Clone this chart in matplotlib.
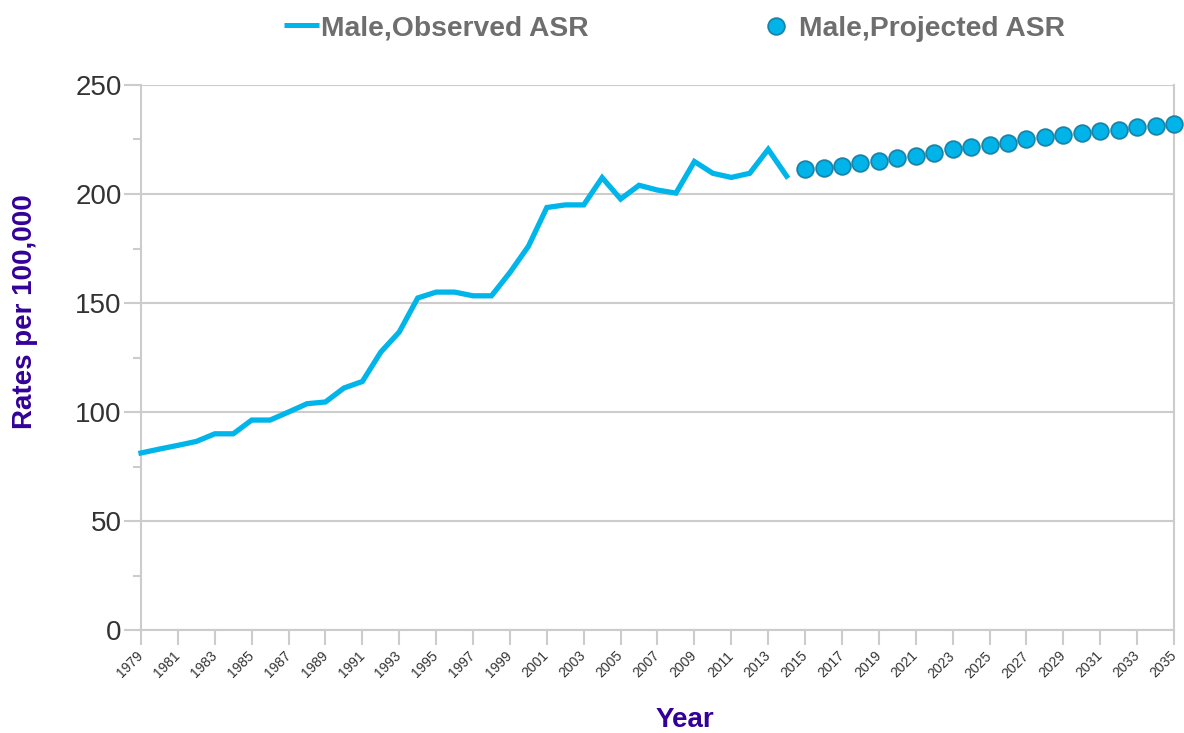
import matplotlib
matplotlib.use("Agg")
import matplotlib.pyplot as plt
from matplotlib.ticker import MultipleLocator
from matplotlib.lines import Line2D

obs_years = list(range(1979, 2015))
obs_values = [81.2, 83.0, 84.7, 86.5, 90.0, 90.0, 96.3, 96.3, 100.0, 103.8, 104.6, 111.0,
              114.0, 127.5, 136.7, 152.3, 155.0, 155.0, 153.3, 153.3, 164.0, 176.0,
              193.8, 195.0, 195.0, 207.5, 197.7, 204.0, 201.8, 200.4, 214.9, 209.5,
              207.6, 209.5, 220.5, 208.2]
proj_years = list(range(2015, 2036))
proj_values = [211.3, 212.1, 213.0, 214.0, 215.1, 216.5, 217.6, 218.6, 220.5, 221.4,
               222.5, 223.5, 225.0, 226.0, 227.0, 228.1, 228.7, 229.4, 230.6, 231.3, 232.1]
xticks = list(range(1979, 2036, 2))
yticks = [0, 50, 100, 150, 200, 250]
legend_labels = ['Male,Observed ASR', 'Male,Projected ASR']

plt.rcParams['font.family'] = ['Liberation Sans', 'DejaVu Sans']

W, H = 1184, 733
fig = plt.figure(figsize=(W/100, H/100), dpi=100)
ax = fig.add_axes([141/W, 1-630/H, (1174-141)/W, (630-85)/H])

line_c = '#00B5EA'
mface, medge = '#00B4EA', '#1A84A8'
ax.plot(obs_years, obs_values, color=line_c, lw=3.8, solid_joinstyle='miter', zorder=3, clip_on=False)
ax.plot(proj_years, proj_values, linestyle='none', marker='o', markersize=12,
        markerfacecolor=mface, markeredgecolor=medge, markeredgewidth=1.3,
        zorder=4, clip_on=False)

ax.set_xlim(1979, 2035)
ax.set_ylim(0, 250)
ax.set_xticks(xticks)
ax.set_xticklabels([str(x) for x in xticks], rotation=45, ha='right', va='center',
                   rotation_mode='anchor', fontsize=10, color='#333333')
ax.set_yticks(yticks)
ax.set_yticklabels([str(y) for y in yticks], fontsize=20, color='#333333')
ax.yaxis.set_minor_locator(MultipleLocator(25))
ax.tick_params(axis='y', which='major', length=12, color='#CCCCCC', width=1.5, pad=2)
ax.tick_params(axis='y', which='minor', length=6, color='#CCCCCC', width=1.5)
ax.tick_params(axis='x', which='major', length=11, color='#CCCCCC', width=1.5, pad=6)

ax.grid(axis='y', which='major', color='#CCCCCC', lw=1.5, zorder=0)
ax.set_axisbelow(True)
for s in ['left', 'right', 'bottom']:
    ax.spines[s].set_color('#CCCCCC')
    ax.spines[s].set_linewidth(1.5)
ax.spines['top'].set_visible(False)

ax.set_ylabel('Rates per 100,000', fontsize=20, fontweight='bold', color='#330099')
ax.yaxis.set_label_coords((25-141)/1033, (630-312)/545)
ax.yaxis.label.set_va('center')
ax.set_xlabel('Year', fontsize=20, fontweight='bold', color='#330099')
ax.xaxis.set_label_coords((685-141)/1033, (630-720)/545)
ax.xaxis.label.set_va('center')

# legend (drawn manually in figure pixel coordinates)
def fy(py):
    return 1 - py / H

fig.add_artist(Line2D([284/W, 319/W], [fy(25), fy(25)], color=line_c, lw=3.6,
                      solid_capstyle='butt', transform=fig.transFigure))
fig.text(321/W, fy(36), legend_labels[0], fontsize=20.3, fontweight='bold', color='#6E6E6E',
         va='baseline', ha='left')
fig.add_artist(Line2D([776/W], [fy(26)], linestyle='none', marker='o', markersize=12,
                      markerfacecolor=mface, markeredgecolor=medge, markeredgewidth=1.3,
                      transform=fig.transFigure))
fig.text(799/W, fy(36), legend_labels[1], fontsize=20.3, fontweight='bold', color='#6E6E6E',
         va='baseline', ha='left')

fig.savefig('out.png', dpi=100)
